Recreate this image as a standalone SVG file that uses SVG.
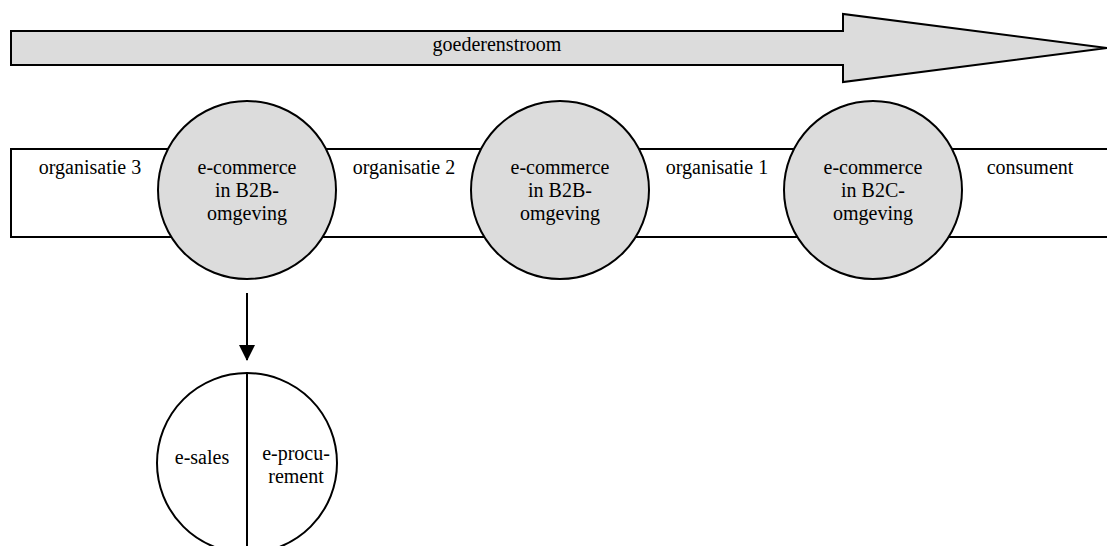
<svg xmlns="http://www.w3.org/2000/svg" width="1107" height="546" viewBox="0 0 1107 546" font-family="'Liberation Serif', 'Times New Roman', Times, serif">
  <style>
    text { font-family: "Liberation Serif", "Times New Roman", Times, serif; font-size: 20px; fill: #000; }
    .mid { text-anchor: middle; }
    .shape { stroke: #000; stroke-width: 2; }
    .grey { fill: #dcdcdc; }
    .white { fill: #fff; }
    .conn { stroke: #000; stroke-width: 2; fill: none; }
  </style>
  <defs>
    <marker id="head" viewBox="0 0 16 16" refX="15" refY="8" markerWidth="16" markerHeight="16" markerUnits="userSpaceOnUse" orient="auto">
      <path d="M0,0 L16,8 L0,16 Z" fill="#000"/>
    </marker>
  </defs>

  <rect width="1107" height="546" fill="#fff"/>

  <!-- flow of goods -->
  <g id="goederenstroom">
    <polygon class="shape grey" points="11,31 843,31 843,14 1107,48 843,82 843,65 11,65"/>
    <text class="mid" x="497" y="51">goederenstroom</text>
  </g>

  <!-- chain band -->
  <g id="keten">
    <rect class="shape white" x="11" y="149" width="1110" height="88"/>
    <text class="mid" x="90" y="174">organisatie 3</text>
    <text class="mid" x="404" y="174">organisatie 2</text>
    <text class="mid" x="717" y="174">organisatie 1</text>
    <text class="mid" x="1030" y="174">consument</text>
  </g>

  <g id="b2b-1">
    <circle class="shape grey" cx="247" cy="190" r="89"/>
    <text class="mid" x="247" y="174">e-commerce</text>
    <text class="mid" x="247" y="197">in B2B-</text>
    <text class="mid" x="247" y="220">omgeving</text>
  </g>

  <g id="b2b-2">
    <circle class="shape grey" cx="560" cy="190" r="89"/>
    <text class="mid" x="560" y="174">e-commerce</text>
    <text class="mid" x="560" y="197">in B2B-</text>
    <text class="mid" x="560" y="220">omgeving</text>
  </g>

  <g id="b2c">
    <circle class="shape grey" cx="873" cy="190" r="89"/>
    <text class="mid" x="873" y="174">e-commerce</text>
    <text class="mid" x="873" y="197">in B2C-</text>
    <text class="mid" x="873" y="220">omgeving</text>
  </g>

  <g id="split">
    <circle class="shape white" cx="247" cy="463" r="90"/>
    <line class="shape" x1="247" y1="373" x2="247" y2="553"/>
    <text class="mid" x="202" y="464">e-sales</text>
    <text class="mid" x="296" y="460">e-procu-</text>
    <text class="mid" x="296" y="483">rement</text>
  </g>

  <g id="connectors">
    <line class="conn" x1="247" y1="293" x2="247" y2="360" marker-end="url(#head)"/>
  </g>
</svg>
